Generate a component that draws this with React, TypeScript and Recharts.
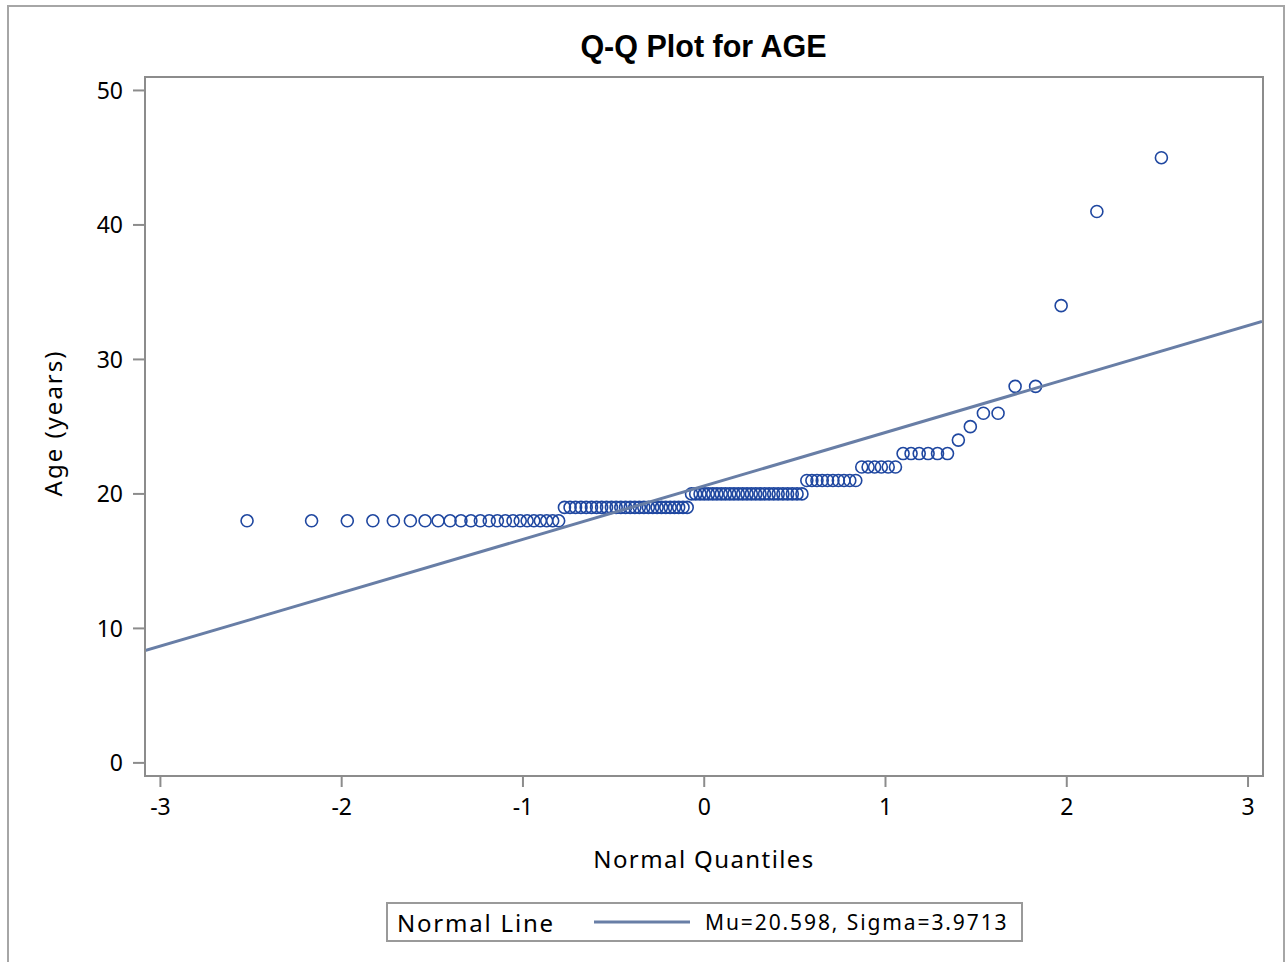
import React from 'react';
import { ScatterChart, Scatter, XAxis, YAxis } from 'recharts';

// normal quantiles (Blom scores) for n = 107
const normalQuantiles = [
  -2.522, -2.166, -1.969, -1.828, -1.715, -1.621, -1.540, -1.468, -1.402, -1.342,
  -1.287, -1.235, -1.186, -1.141, -1.097, -1.055, -1.015, -0.977, -0.940, -0.904,
  -0.869, -0.836, -0.803, -0.771, -0.740, -0.710, -0.680, -0.651, -0.622, -0.594,
  -0.566, -0.539, -0.512, -0.486, -0.460, -0.434, -0.408, -0.383, -0.358, -0.333,
  -0.308, -0.284, -0.260, -0.236, -0.212, -0.188, -0.164, -0.141, -0.117, -0.094,
  -0.070, -0.047, -0.023, 0,
  0.023, 0.047, 0.070, 0.094, 0.117, 0.141, 0.164, 0.188, 0.212, 0.236,
  0.260, 0.284, 0.308, 0.333, 0.358, 0.383, 0.408, 0.434, 0.460, 0.486,
  0.512, 0.539, 0.566, 0.594, 0.622, 0.651, 0.680, 0.710, 0.740, 0.771,
  0.803, 0.836, 0.869, 0.904, 0.940, 0.977, 1.015, 1.055, 1.097, 1.141,
  1.186, 1.235, 1.287, 1.342, 1.402, 1.468, 1.540, 1.621, 1.715, 1.828,
  1.969, 2.166, 2.522,
];

// sorted ages
const ages = [
  18, 18, 18, 18, 18, 18, 18, 18, 18, 18, 18, 18, 18, 18, 18, 18, 18, 18, 18, 18, 18, 18, 18,
  19, 19, 19, 19, 19, 19, 19, 19, 19, 19, 19, 19, 19, 19, 19, 19, 19, 19, 19, 19, 19, 19, 19, 19, 19, 19, 19,
  20, 20, 20, 20, 20, 20, 20, 20, 20, 20, 20, 20, 20, 20, 20, 20, 20, 20, 20, 20, 20, 20, 20, 20, 20, 20,
  21, 21, 21, 21, 21, 21, 21, 21, 21, 21,
  22, 22, 22, 22, 22, 22,
  23, 23, 23, 23, 23, 23,
  24, 25, 26, 26, 28, 28, 34, 41, 45,
];

const mu = 20.598;
const sigma = 3.9713;

const xTicks = [-3, -2, -1, 0, 1, 2, 3];
const yTicks = [0, 10, 20, 30, 40, 50];
const xDomain = [-3.085, 3.077];
const yDomain = [-0.9, 51];

const points = ages.map((a, i) => ({ q: normalQuantiles[i], age: a }));
const normalLine = xDomain.map((q) => ({ q, age: mu + sigma * q }));

const FONT = '"Noto Sans", "Open Sans", Arial, sans-serif';
const TITLE_FONT = '"Liberation Sans", Arial, sans-serif';
const MARKER = '#1f47a0';
const LINE = '#687ea6';
const AXIS = '#8c8c8c';

const Circle = (props: any) => {
  const { cx, cy } = props;
  if (cx == null || cy == null) return <g />;
  return <circle cx={cx} cy={cy} r={6} fill="none" stroke={MARKER} strokeWidth={1.6} />;
};

const NoShape = () => <g />;

export default function App() {
  return (
    <div style={{ position: 'absolute', left: 0, top: 0, width: 1285, height: 962, fontFamily: FONT, overflow: 'hidden' }}>
      {/* outer frame, bottom edge falls off the page */}
      <div style={{ position: 'absolute', left: 7, top: 5, width: 1278, height: 970, border: '2px solid #a6a6a6', boxSizing: 'border-box' }} />

      <div style={{ position: 'absolute', left: 0, top: 31, width: 1407, textAlign: 'center', fontSize: 30.5, lineHeight: '30px', fontWeight: 'bold', fontFamily: TITLE_FONT, color: '#000' }}>
        Q-Q Plot for AGE
      </div>

      <div style={{ position: 'absolute', left: 0, top: 0 }}>
        <ScatterChart width={1285} height={962} margin={{ top: 77, right: 23, left: 85, bottom: 127 }}>
          <XAxis
            type="number"
            dataKey="q"
            domain={xDomain}
            allowDataOverflow
            ticks={xTicks}
            height={60}
            axisLine={false}
            tickSize={12}
            tickMargin={12}
            tickLine={{ stroke: AXIS, strokeWidth: 2 }}
            tick={{ fontSize: 23, fill: '#000', fontFamily: FONT }}
          />
          <YAxis
            type="number"
            dataKey="age"
            domain={yDomain}
            allowDataOverflow
            ticks={yTicks}
            width={60}
            axisLine={false}
            tickSize={12}
            tickMargin={10}
            tickLine={{ stroke: AXIS, strokeWidth: 2 }}
            tick={{ fontSize: 23, fill: '#000', fontFamily: FONT }}
          />
          <Scatter data={points} shape={<Circle />} isAnimationActive={false} />
          <Scatter data={normalLine} line={{ stroke: LINE, strokeWidth: 3 }} shape={<NoShape />} isAnimationActive={false} />
        </ScatterChart>
      </div>

      {/* plot frame */}
      <div style={{ position: 'absolute', left: 144, top: 76, width: 1120, height: 701, border: `2px solid ${AXIS}`, boxSizing: 'border-box', pointerEvents: 'none' }} />

      <div style={{ position: 'absolute', left: 53, top: 423, transform: 'translate(-50%, -50%) rotate(-90deg)', fontSize: 24, letterSpacing: 2, lineHeight: '24px', whiteSpace: 'nowrap', color: '#000' }}>
        Age (years)
      </div>

      <div style={{ position: 'absolute', left: 0, top: 847, width: 1408, textAlign: 'center', fontSize: 24, letterSpacing: 1.4, lineHeight: '24px', color: '#000' }}>
        Normal Quantiles
      </div>

      {/* legend */}
      <div style={{ position: 'absolute', left: 386, top: 902, width: 637, height: 40, border: '2px solid #9a9a9a', boxSizing: 'border-box', display: 'flex', alignItems: 'center', color: '#000' }}>
        <span style={{ marginLeft: 9, fontSize: 24, letterSpacing: 1.8 }}>Normal Line</span>
        <svg width={100} height={10} style={{ position: 'absolute', left: 206 }}>
          <line x1={0} y1={5} x2={96} y2={5} stroke={LINE} strokeWidth={3} />
        </svg>
        <span style={{ position: 'absolute', left: 317, fontSize: 21, letterSpacing: 1.9 }}>Mu=20.598, Sigma=3.9713</span>
      </div>
    </div>
  );
}
